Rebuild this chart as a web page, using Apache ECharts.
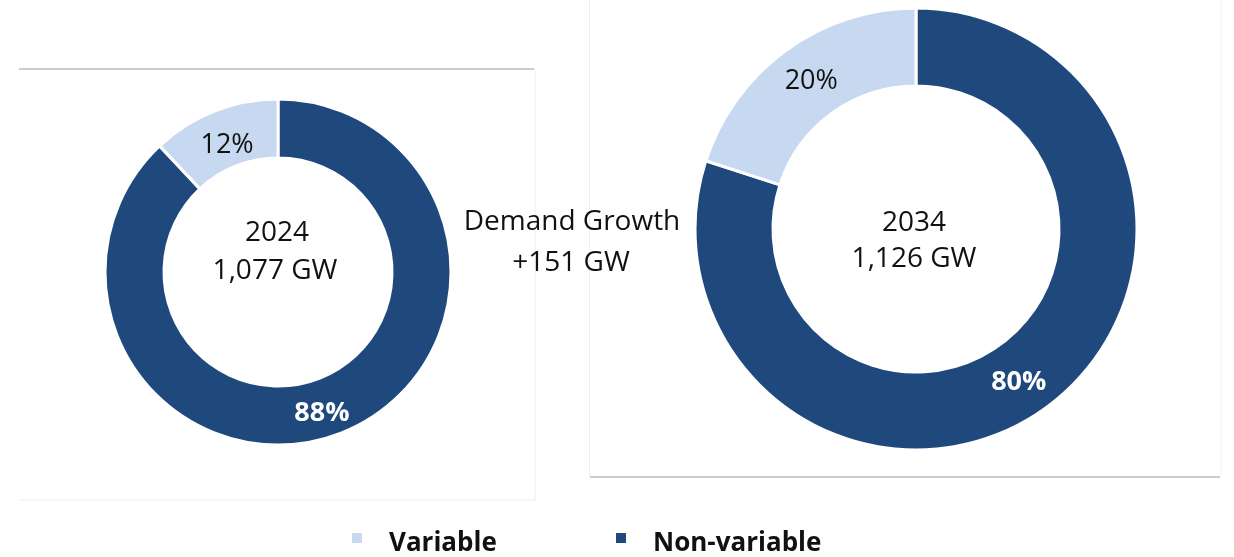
<!DOCTYPE html>
<html>
<head>
<meta charset="utf-8">
<script src="https://cdn.jsdelivr.net/npm/echarts@6/dist/echarts.min.js"></script>
<style>
  html, body { margin: 0; padding: 0; background: #fff; }
  #chart { width: 1234px; height: 557px; }
</style>
</head>
<body>
<div id="chart"></div>
<script>
// data
const categories = ["Non-variable", "Variable"];
const share2024 = [88, 12];
const share2034 = [80, 20];
const years = ["2024", "2034"];
const peakDemand = ["1,077 GW", "1,126 GW"];
const growthText = ["Demand Growth", "+151 GW"];
const legendOrder = ["Variable", "Non-variable"];

const DARK = "#1F497D";
const LIGHT = "#C6D9F1";
const FONT = "'Open Sans', 'Liberation Sans', sans-serif";

const chart = echarts.init(document.getElementById("chart"));

// 构建饼图数据, offsets 只是标签微调
const buildData = (values, offsets) =>
  categories.map((name, i) => ({
    name: name,
    value: values[i],
    itemStyle: { color: name === "Variable" ? LIGHT : DARK },
    label: name === "Variable"
      ? { color: "#111", fontWeight: "normal", offset: offsets[i] }
      : { color: "#fff", fontWeight: "bold", offset: offsets[i] }
  }));

const pieBase = {
  type: "pie",
  startAngle: 90,
  clockwise: true,
  avoidLabelOverlap: false,
  silent: true,
  itemStyle: { borderColor: "#fff", borderWidth: 3 },
  label: {
    show: true,
    position: "inside",
    formatter: "{d}%",
    fontFamily: FONT,
    fontSize: 27
  },
  labelLine: { show: false }
};

const textEl = (text, x, y, size) => ({
  type: "text",
  x: x,
  y: y,
  style: {
    text: text,
    fill: "#111",
    font: "normal " + size + "px " + FONT,
    textAlign: "center",
    textVerticalAlign: "middle"
  }
});

const lineEl = (x1, y1, x2, y2, color, w) => ({
  type: "line",
  shape: { x1: x1, y1: y1, x2: x2, y2: y2 },
  style: { stroke: color, lineWidth: w }
});

// 图例方块比文字略高, 用上半部的小方块路径
const legendStyle = {
  top: 526,
  icon: "path://M0,0h12v12h-12z M0,24",
  itemWidth: 12,
  itemHeight: 24,
  textStyle: { fontFamily: FONT, fontSize: 26, fontWeight: "bold", color: "#111", padding: [0, 0, 0, 21] }
};

const option = {
  backgroundColor: "#fff",
  animation: false,
  legend: [
    Object.assign({ data: [legendOrder[0]], left: 345 }, legendStyle),
    Object.assign({ data: [legendOrder[1]], left: 609 }, legendStyle)
  ],
  graphic: [
    // 左侧面板边框
    lineEl(19, 69, 534, 69, "#cccccc", 2),
    lineEl(535, 69, 535, 500, "#eeeeee", 1),
    lineEl(19, 500, 535, 500, "#eeeeee", 1),
    // 右侧面板边框
    lineEl(589.5, 0, 589.5, 477, "#eeeeee", 1),
    lineEl(590, 477, 1220, 477, "#cccccc", 2),
    lineEl(1221, 0, 1221, 477, "#f2f2f2", 1),
    textEl(years[0], 277, 233, 28),
    textEl(peakDemand[0], 275, 271, 28),
    textEl(years[1], 914, 223, 28),
    textEl(peakDemand[1], 914, 259, 28),
    textEl(growthText[0], 572, 222, 28),
    textEl(growthText[1], 571, 263, 28)
  ],
  series: [
    Object.assign({}, pieBase, {
      name: years[0],
      center: [278, 272],
      radius: [114, 173],
      data: buildData(share2024, [[-10, 5], [3, 10]])
    }),
    Object.assign({}, pieBase, {
      name: years[1],
      center: [916, 229],
      radius: [143, 221],
      data: buildData(share2034, [[-6, 4], [4, 2]])
    })
  ]
};

chart.setOption(option);
</script>
</body>
</html>
